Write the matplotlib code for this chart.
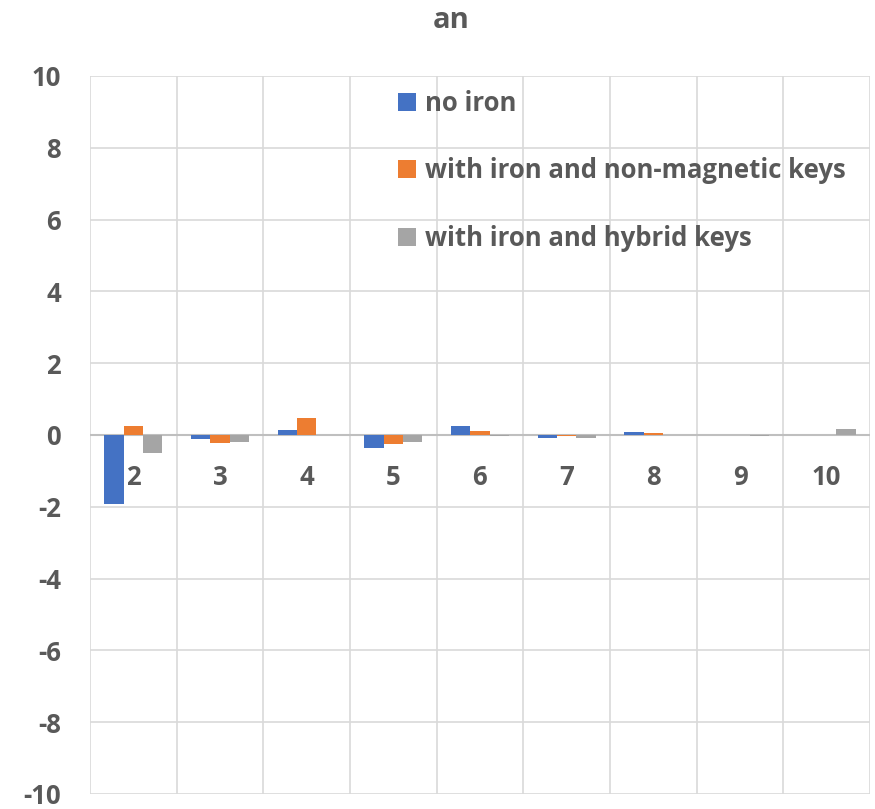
import matplotlib.pyplot as plt
import numpy as np

plt.rcParams['font.family'] = ['Open Sans', 'DejaVu Sans']

categories = ['2', '3', '4', '5', '6', '7', '8', '9', '10']
no_iron = [-1.93, -0.10, 0.15, -0.36, 0.24, -0.08, 0.07, 0.01, 0.0]
iron_nonmag = [0.24, -0.21, 0.46, -0.24, 0.10, -0.03, 0.05, 0.01, 0.0]
iron_hybrid = [-0.49, -0.20, 0.0, -0.20, -0.03, -0.08, 0.0, -0.03, 0.17]
series_names = ['no iron', 'with iron and non-magnetic keys', 'with iron and hybrid keys']
colors = ['#4472C4', '#ED7D31', '#A5A5A5']
yticks = np.arange(-10, 11, 2)

txt = '#595959'
fs = 18.5
fig = plt.figure(figsize=(8.75, 8.09), dpi=100)
ax = fig.add_axes([90/875, 1-794/809, 780/875, 718/809])

x = np.arange(len(categories))
w = 1/4.5
for i, (vals, name) in enumerate(zip([no_iron, iron_nonmag, iron_hybrid], series_names)):
    ax.bar(x + (i-1)*w, vals, w, color=colors[i], label=name, zorder=3)

ax.set_xlim(-0.5, len(categories)-0.5)
ax.set_ylim(-10, 10)
ax.set_yticks(yticks)
ax.set_yticklabels([str(v) for v in yticks], fontsize=fs, fontweight='bold', color=txt)
ax.tick_params(axis='y', length=0, pad=21)
ax.set_xticks([])
for s in ax.spines.values():
    s.set_visible(False)

for v in yticks:
    ax.axhline(v, color='#d9d9d9', lw=1.2, zorder=1)
for b in np.arange(-0.5, len(categories), 1):
    ax.axvline(b, color='#d9d9d9', lw=1.2, zorder=1)
ax.axhline(0, color='#bfbfbf', lw=1.5, zorder=2)

for xi, c in zip(x, categories):
    ax.text(xi, -1.17, c, ha='center', va='center', fontsize=fs, fontweight='bold', color=txt)

fig.text(451/875, 1-20/809, 'an', ha='center', va='center', fontsize=21, fontweight='bold', color=txt)

ax.legend(loc='upper left', bbox_to_anchor=(285/780, 1.013), frameon=False,
          prop={'size': fs, 'weight': 'bold'}, labelcolor=txt, labelspacing=1.58,
          handlelength=0.7, handleheight=0.7, handletextpad=0.35)

fig.savefig('out.png', dpi=100)
